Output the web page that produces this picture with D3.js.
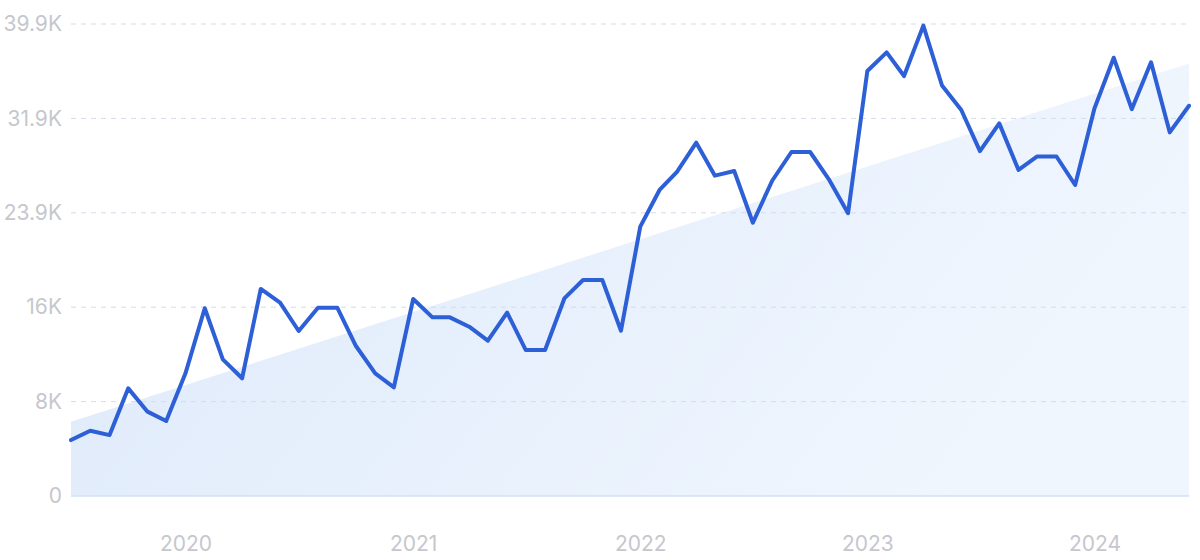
<!DOCTYPE html>
<html>
<head>
<meta charset="utf-8">
<script src="https://cdn.jsdelivr.net/npm/d3@7/dist/d3.min.js"></script>
<style>
  html, body { margin: 0; padding: 0; background: #ffffff; }
  svg { display: block; }
  text { font-family: Inter, "Noto Sans", sans-serif; }
</style>
</head>
<body>
<svg id="chart" width="1200" height="560"></svg>
<script>
// ---- data ----
const startMonth = "2019-07";
const values = [
  4730, 5520, 5150, 9100, 7130, 6340, 10370, 15870, 11550, 9950,
  17500, 16340, 13950, 15920, 15920, 12680, 10370, 9190, 16650, 15100,
  15100, 14310, 13130, 15500, 12340, 12340, 16700, 18260, 18260, 13970,
  22770, 25870, 27400, 29870, 27080, 27470, 23100, 26650, 29080, 29080,
  26700, 23900, 35930, 37500, 35500, 39760, 34700, 32630, 29160, 31500,
  27560, 28700, 28700, 26290, 32760, 37050, 32700, 36660, 30740, 32990
];
const trendValues = [6280, 36570];
const yTicks = [0, 7980, 15960, 23940, 31920, 39900];
const yTickLabels = ["0", "8K", "16K", "23.9K", "31.9K", "39.9K"];
const xTickYears = [2020, 2021, 2022, 2023, 2024];

// ---- layout ----
const margin = { left: 71, right: 11, top: 24, bottom: 64 };
const W = 1200, H = 560;
const svg = d3.select("#chart");

const parse = d3.timeParse("%Y-%m");
const start = parse(startMonth);
const dates = values.map((_, i) => d3.timeMonth.offset(start, i));

const x = d3.scaleTime()
  .domain([dates[0], dates[dates.length - 1]])
  .range([margin.left, W - margin.right]);
const y = d3.scaleLinear()
  .domain([0, 39900])
  .range([H - margin.bottom, margin.top]);

// gradient for trend area
const defs = svg.append("defs");
const grad = defs.append("linearGradient")
  .attr("id", "trendGrad")
  .attr("x1", "0%").attr("y1", "0%")
  .attr("x2", "100%").attr("y2", "30%");
grad.append("stop").attr("offset", "0%").attr("stop-color", "#dde9fa");
grad.append("stop").attr("offset", "100%").attr("stop-color", "#f0f6fe");

// trend area
const trendData = [
  { d: dates[0], v: trendValues[0] },
  { d: dates[dates.length - 1], v: trendValues[1] }
];
svg.append("path")
  .datum(trendData)
  .attr("fill", "url(#trendGrad)")
  .attr("d", d3.area()
    .x(p => x(p.d))
    .y0(y(0))
    .y1(p => y(p.v)));

// gridlines (dashed)
svg.append("g")
  .selectAll("line")
  .data(yTicks.filter(t => t > 0))
  .join("line")
  .attr("x1", margin.left)
  .attr("x2", W - margin.right)
  .attr("y1", d => y(d))
  .attr("y2", d => y(d))
  .attr("stroke", "#d3dcea")
  .attr("stroke-width", 1)
  .attr("stroke-dasharray", "5,5");

// baseline
svg.append("line")
  .attr("x1", margin.left)
  .attr("x2", W - margin.right)
  .attr("y1", y(0))
  .attr("y2", y(0))
  .attr("stroke", "#d2e1f7")
  .attr("stroke-width", 1.5);

// y axis labels
const yAxis = d3.axisLeft(y)
  .tickValues(yTicks)
  .tickFormat((d, i) => yTickLabels[i])
  .tickSize(0)
  .tickPadding(9);
const gy = svg.append("g")
  .attr("transform", `translate(${margin.left},0)`)
  .call(yAxis);
gy.select(".domain").remove();
gy.selectAll("text")
  .attr("fill", "#c6c7cd")
  .style("font-size", "21px")
  .style("font-family", "Inter, 'Noto Sans', sans-serif");

// x axis labels
const xAxis = d3.axisBottom(x)
  .tickValues(xTickYears.map(yr => new Date(yr, 0, 1)))
  .tickFormat(d3.timeFormat("%Y"))
  .tickSize(0)
  .tickPadding(40);
const gx = svg.append("g")
  .attr("transform", `translate(0,${y(0)})`)
  .call(xAxis);
gx.select(".domain").remove();
gx.selectAll("text")
  .attr("fill", "#c6c7cd")
  .style("font-size", "21px")
  .style("font-family", "Inter, 'Noto Sans', sans-serif");

// main line
svg.append("path")
  .datum(values)
  .attr("fill", "none")
  .attr("stroke", "#2d5fd6")
  .attr("stroke-width", 4)
  .attr("stroke-linejoin", "round")
  .attr("stroke-linecap", "round")
  .attr("d", d3.line()
    .x((v, i) => x(dates[i]))
    .y(v => y(v)));
</script>
</body>
</html>
